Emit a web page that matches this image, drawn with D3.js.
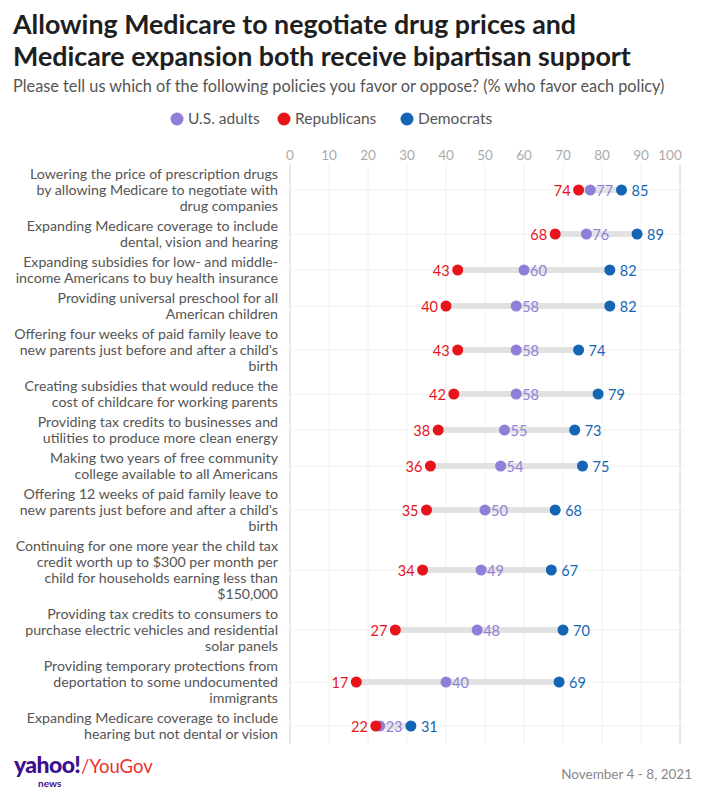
<!DOCTYPE html>
<html>
<head>
<meta charset="utf-8">
<script src="https://cdn.jsdelivr.net/npm/d3@7"></script>
<style>
  body { margin: 0; background: #fff; }
  svg { display: block; font-family: Lato, "Open Sans", sans-serif; }
</style>
</head>
<body>
<div id="chart"></div>
<script>
// --- Data ---
const policies = [
    ["Lowering the price of prescription drugs", "by allowing Medicare to negotiate with", "drug companies"],
    ["Expanding Medicare coverage to include", "dental, vision and hearing"],
    ["Expanding subsidies for low- and middle-", "income Americans to buy health insurance"],
    ["Providing universal preschool for all", "American children"],
    ["Offering four weeks of paid family leave to", "new parents just before and after a child's", "birth"],
    ["Creating subsidies that would reduce the", "cost of childcare for working parents"],
    ["Providing tax credits to businesses and", "utilities to produce more clean energy"],
    ["Making two years of free community", "college available to all Americans"],
    ["Offering 12 weeks of paid family leave to", "new parents just before and after a child's", "birth"],
    ["Continuing for one more year the child tax", "credit worth up to $300 per month per", "child for households earning less than", "$150,000"],
    ["Providing tax credits to consumers to", "purchase electric vehicles and residential", "solar panels"],
    ["Providing temporary protections from", "deportation to some undocumented", "immigrants"],
    ["Expanding Medicare coverage to include", "hearing but not dental or vision"]
];
const adults      = [77, 76, 60, 58, 58, 58, 55, 54, 50, 49, 48, 40, 23];
const republicans = [74, 68, 43, 40, 43, 42, 38, 36, 35, 34, 27, 17, 22];
const democrats   = [85, 89, 82, 82, 74, 79, 73, 75, 68, 67, 70, 69, 31];
const ticks = [0, 10, 20, 30, 40, 50, 60, 70, 80, 90, 100];
const seriesNames = ["U.S. adults", "Republicans", "Democrats"];

const colors = { adults: "#8f7fd8", rep: "#e8141c", dem: "#1565b5" };

const W = 705, H = 794;
const svg = d3.select("#chart").append("svg").attr("width", W).attr("height", H);

// --- Title block ---
svg.append("text").attr("x", 13).attr("y", 34)
    .attr("font-size", 26.8).attr("font-weight", 700).attr("fill", "#1e1e1e")
    .text("Allowing Medicare to negotiate drug prices and");
svg.append("text").attr("x", 13).attr("y", 66)
    .attr("font-size", 26.8).attr("font-weight", 700).attr("fill", "#1e1e1e")
    .text("Medicare expansion both receive bipartisan support");
svg.append("text").attr("x", 13).attr("y", 92)
    .attr("font-size", 16.3).attr("fill", "#555")
    .text("Please tell us which of the following policies you favor or oppose? (% who favor each policy)");

// --- Legend ---
const legendX = [177, 284, 407];
const legendCol = [colors.adults, colors.rep, colors.dem];
const legend = svg.append("g").selectAll("g").data(seriesNames).enter().append("g")
    .attr("transform", (d, i) => `translate(${legendX[i]},119)`);
legend.append("circle").attr("r", 6.5).attr("fill", (d, i) => legendCol[i]);
legend.append("text").attr("x", 11).attr("dy", "0.35em")
    .attr("font-size", 15.5).attr("fill", "#555").text(d => d);

// --- Scales ---
const x = d3.scaleLinear().domain([0, 100]).range([290, 680]);
const lineH = 16, pad = 4, chartTop = 164;
const bandH = policies.map(p => p.length * lineH + pad);
const yTop = bandH.map((h, i) => chartTop + d3.sum(bandH.slice(0, i)));
const yMid = (i) => yTop[i] + bandH[i] / 2;
const chartBottom = chartTop + d3.sum(bandH);

// --- Grid ---
const grid = svg.append("g");
grid.selectAll("line.v").data(ticks).enter().append("line")
    .attr("x1", d => x(d)).attr("x2", d => x(d))
    .attr("y1", chartTop).attr("y2", chartBottom)
    .attr("stroke", d => (d === 0 || d === 100) ? "#d2d2d2" : "#f0f0f0")
    .attr("stroke-width", 1);
grid.selectAll("line.h").data(policies).enter().append("line")
    .attr("x1", x(0) - 4).attr("x2", x(100) + 6)
    .attr("y1", (d, i) => yMid(i)).attr("y2", (d, i) => yMid(i))
    .attr("stroke", "#f0f0f0");

// --- Axis labels (top) ---
svg.append("g").selectAll("text").data(ticks).enter().append("text")
    .attr("x", d => d === 100 ? x(d) - 10 : x(d))
    .attr("y", 160)
    .attr("text-anchor", "middle")
    .attr("font-size", 13.5).attr("fill", "#aaa")
    .text(d => d);

// --- Row labels ---
const labels = svg.append("g").selectAll("text").data(policies).enter().append("text")
    .attr("text-anchor", "end").attr("font-size", 14.2).attr("fill", "#555");
labels.each(function (d, i) {
    const t = d3.select(this);
    const y0 = yMid(i) - (d.length - 1) * lineH / 2;
    d.forEach((ln, j) => {
        t.append("tspan").attr("x", 278).attr("y", y0 + j * lineH).attr("dy", "0.35em").text(ln);
    });
});

// --- Dumbbells ---
const rows = svg.append("g").selectAll("g").data(policies).enter().append("g")
    .attr("transform", (d, i) => `translate(0,${yMid(i)})`);
rows.append("line")
    .attr("x1", (d, i) => x(republicans[i])).attr("x2", (d, i) => x(democrats[i]))
    .attr("stroke", "#e2e2e2").attr("stroke-width", 6);
rows.append("circle").attr("cx", (d, i) => x(adults[i])).attr("r", 5.5).attr("fill", colors.adults);
rows.append("circle").attr("cx", (d, i) => x(republicans[i])).attr("r", 5.5).attr("fill", colors.rep);
rows.append("circle").attr("cx", (d, i) => x(democrats[i])).attr("r", 5.5).attr("fill", colors.dem);
rows.append("text").attr("x", (d, i) => x(republicans[i]) - 8).attr("dy", "0.38em")
    .attr("text-anchor", "end").attr("font-size", 14.5).attr("fill", colors.rep)
    .text((d, i) => republicans[i]);
rows.append("text").attr("x", (d, i) => x(adults[i]) + 6).attr("dy", "0.38em")
    .attr("font-size", 14.5).attr("fill", colors.adults)
    .text((d, i) => adults[i]);
rows.append("text").attr("x", (d, i) => x(democrats[i]) + 10).attr("dy", "0.38em")
    .attr("font-size", 14.5).attr("fill", colors.dem)
    .text((d, i) => democrats[i]);

// --- Footer ---
const logo = svg.append("g").attr("transform", "translate(14,773)");
logo.append("text").attr("font-size", 23).attr("font-weight", 900).attr("fill", "#3c0f8c")
    .attr("letter-spacing", -0.6).text("yahoo!");
logo.append("text").attr("x", 24).attr("y", 14).attr("font-size", 10).attr("font-weight", 700)
    .attr("fill", "#3c0f8c").text("news");
logo.append("text").attr("x", 67).attr("font-size", 18.5).attr("fill", "#e8322c").text("/YouGov");

svg.append("text").attr("x", 692).attr("y", 779).attr("text-anchor", "end")
    .attr("font-size", 13.5).attr("fill", "#888").text("November 4 - 8, 2021");
</script>
</body>
</html>
